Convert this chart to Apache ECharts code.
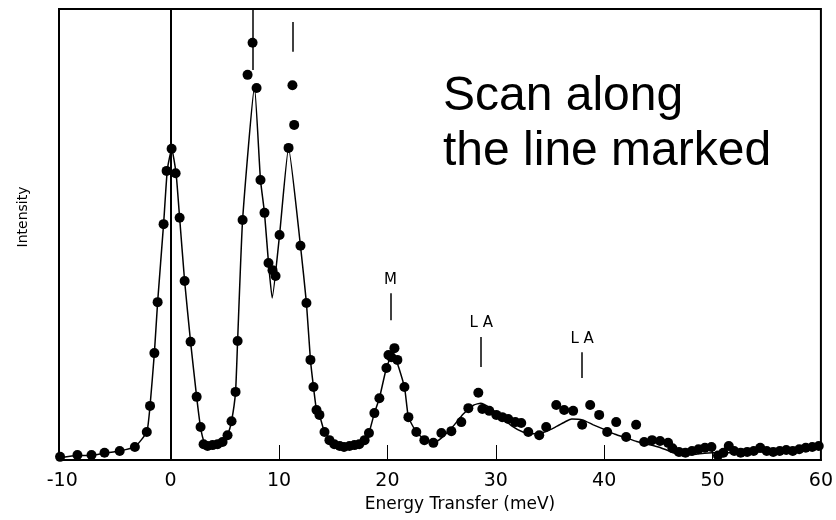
<!DOCTYPE html>
<html>
<head>
<meta charset="utf-8">
<script src="https://cdn.jsdelivr.net/npm/echarts@6/dist/echarts.min.js"></script>
<style>
  html, body { margin: 0; padding: 0; background: #fff; }
  #chart { width: 836px; height: 520px; }
</style>
</head>
<body>
<div id="chart"></div>
<script>
// Measured scan: energy transfer (meV) and intensity (arb. units)
const energy = [-10.2, -8.6, -7.3, -6.1, -4.7, -3.3, -2.2, -1.9, -1.5, -1.2,
  -0.65, -0.37, 0.09, 0.46, 0.83, 1.29, 1.84, 2.4, 2.76, 3.04,
  3.41, 3.87, 4.33, 4.79, 5.25, 5.62, 5.99, 6.18, 6.64, 7.1,
  7.56, 7.93, 8.29, 8.66, 9.03, 9.4, 9.68, 10.05, 10.88, 11.24,
  11.4, 11.98, 12.53, 12.9, 13.18, 13.46, 13.73, 14.2, 14.65, 15.1,
  15.6, 16.0, 16.5, 16.96, 17.4, 17.9, 18.3, 18.8, 19.26, 19.91,
  20.1, 20.37, 20.65, 20.92, 21.57, 21.94, 22.67, 23.41, 24.24, 24.98,
  25.9, 26.82, 27.47, 28.39, 28.76, 29.4, 30.05, 30.6, 31.15, 31.8,
  32.35, 33.0, 34.01, 34.65, 35.58, 36.31, 37.14, 37.97, 38.71, 39.54,
  40.28, 41.11, 42.03, 42.95, 43.69, 44.42, 45.16, 45.9, 46.3, 46.9,
  47.5, 48.1, 48.7, 49.3, 49.9, 50.5, 51.0, 51.5, 52.0, 52.6,
  53.2, 53.8, 54.4, 55.0, 55.6, 56.2, 56.8, 57.4, 58.0, 58.6,
  59.2, 59.8];
const intensity = [0.7, 1.1, 1.1, 1.6, 2.0, 2.9, 6.2, 12.0, 23.7, 35.0,
  52.3, 64.1, 69.0, 63.6, 53.7, 39.7, 26.2, 14.0, 7.3, 3.5,
  3.1, 3.3, 3.5, 4.0, 5.5, 8.6, 15.1, 26.4, 53.2, 85.4,
  92.5, 82.5, 62.1, 54.8, 43.7, 42.1, 40.8, 49.9, 69.2, 83.1,
  74.3, 47.5, 34.8, 22.2, 16.2, 11.1, 10.0, 6.2, 4.4, 3.5,
  3.1, 2.9, 3.1, 3.3, 3.5, 4.4, 6.0, 10.4, 13.7, 20.4,
  23.3, 22.8, 24.8, 22.2, 16.2, 9.5, 6.2, 4.4, 3.8, 6.0,
  6.4, 8.4, 11.5, 14.9, 11.3, 10.9, 10.0, 9.5, 9.1, 8.4,
  8.2, 6.2, 5.5, 7.3, 12.2, 11.1, 10.9, 7.8, 12.2, 10.0,
  6.2, 8.4, 5.1, 7.8, 4.0, 4.4, 4.2, 3.8, 2.6, 1.8,
  1.6, 2.0, 2.4, 2.7, 2.9, 1.0, 1.6, 3.1, 2.0, 1.6,
  1.8, 2.0, 2.7, 2.0, 1.8, 2.0, 2.2, 2.0, 2.4, 2.7,
  2.9, 3.1];

// Fitted profile drawn through the scan
const fitEnergy = [-10.2, -8.6, -7.3, -6.1, -4.7, -3.3, -2.2, -1.9, -1.5, -1.2,
  -0.65, -0.3, 0.1, 0.5, 0.83, 1.29, 1.84, 2.4, 2.76, 3.1,
  3.6, 4.3, 4.8, 5.25, 5.62, 5.99, 6.18, 6.64, 7.74, 8.29,
  8.66, 9.03, 9.37, 10.05, 10.88, 11.98, 12.53, 12.9, 13.18, 13.46,
  13.73, 14.2, 15.0, 16.0, 17.0, 17.9, 18.3, 18.8, 19.26, 19.91,
  20.5, 21.57, 21.94, 22.67, 23.5, 24.3, 25.0, 26.0, 27.0, 28.0,
  28.6, 29.5, 30.5, 31.5, 32.5, 33.5, 34.5, 35.5, 36.5, 37.0,
  38.0, 39.0, 40.0, 41.0, 42.0, 43.0, 44.0, 45.0, 46.0, 47.0,
  48.5, 50.0, 52.0, 54.0, 56.0, 58.0, 60.0];
const fitIntensity = [0.5, 1.0, 1.0, 1.5, 2.0, 2.9, 6.2, 12.0, 23.7, 35.0,
  52.3, 64.5, 69.0, 63.6, 53.7, 39.7, 26.2, 14.0, 7.3, 4.0,
  3.3, 3.5, 4.0, 5.5, 8.6, 15.1, 26.4, 53.2, 82.7, 62.1,
  54.8, 43.7, 35.9, 49.9, 69.2, 47.5, 34.8, 22.2, 16.2, 11.1,
  10.0, 6.2, 4.2, 3.2, 3.5, 4.4, 6.0, 10.4, 13.7, 20.4,
  23.8, 16.2, 9.5, 6.2, 4.4, 3.8, 4.9, 7.3, 10.2, 12.2,
  12.6, 11.5, 9.5, 7.5, 6.2, 5.8, 6.2, 7.3, 8.6, 9.1,
  8.9, 7.8, 6.8, 5.7, 4.9, 4.1, 3.5, 2.9, 2.0, 1.0,
  1.3, 1.6, 1.6, 1.8, 1.8, 2.2, 2.6];

// Axis tick labels
const tickValues = [-10, 0, 10, 20, 30, 40, 50, 60];
const innerTicks = [10, 20, 30, 40, 50];

// Mode markers: label, energy, tick top and tick bottom (intensity)
const markerLabels = ['', '', 'M', 'L A', 'L A'];
const markerEnergy = [7.6, 11.24, 20.28, 28.66, 37.97];
const markerTop = [100, 97.1, 37.0, 27.3, 23.9];
const markerBottom = [86.5, 90.5, 31.0, 20.6, 18.2];

const scanPoints = energy.map((e, i) => [e, intensity[i]]);
const fitPoints = fitEnergy.map((e, i) => [e, fitIntensity[i]]);

const markerLines = markerEnergy.map((e, i) => [
  { coord: [e, markerTop[i]], name: markerLabels[i] },
  { coord: [e, markerBottom[i]] }
]);
markerLines.push({ xAxis: 0, label: { show: false } });

const chart = echarts.init(document.getElementById('chart'), null, { renderer: 'canvas' });

chart.setOption({
  backgroundColor: '#fff',
  animation: false,
  grid: {
    left: 59, right: 13, top: 9, bottom: 60,
    show: true, borderColor: '#000', borderWidth: 2, backgroundColor: 'transparent'
  },
  xAxis: {
    type: 'value',
    min: -10.3,
    max: 60,
    splitLine: { show: false },
    axisLine: { show: true, lineStyle: { color: '#000', width: 2 } },
    axisTick: {
      show: true, inside: true, length: 15,
      customValues: innerTicks,
      lineStyle: { color: '#000', width: 1 }
    },
    axisLabel: {
      customValues: tickValues,
      margin: 12,
      color: '#000',
      fontSize: 19,
      fontFamily: 'DejaVu Sans',
      formatter: v => (v < 0 ? '-' + Math.abs(v) : String(v))
    },
    name: 'Energy Transfer (meV)',
    nameLocation: 'middle',
    nameGap: 34,
    nameTextStyle: {
      color: '#000', fontSize: 17, fontFamily: 'DejaVu Sans',
      padding: [0, 0, 0, 40]
    }
  },
  yAxis: {
    type: 'value',
    min: 0,
    max: 100,
    splitLine: { show: false },
    axisLine: { show: true, lineStyle: { color: '#000', width: 2 } },
    axisTick: { show: false },
    axisLabel: { show: false }
  },
  graphic: [
    {
      type: 'text', left: 443, top: 69,
      style: {
        text: 'Scan along\nthe line marked',
        font: '48px "Liberation Sans", Arial, sans-serif',
        fill: '#000',
        lineHeight: 55
      }
    },
    {
      type: 'text', x: 23, y: 217, rotation: Math.PI / 2,
      style: {
        text: 'Intensity',
        font: '14px "DejaVu Sans", sans-serif',
        fill: '#000',
        align: 'center',
        verticalAlign: 'middle'
      }
    }
  ],
  series: [
    {
      name: 'fit',
      type: 'line',
      data: fitPoints,
      showSymbol: false,
      smooth: 0.15,
      lineStyle: { color: '#000', width: 1.5 },
      z: 2,
      markLine: {
        silent: true,
        symbol: 'none',
        lineStyle: { color: '#000', width: 1.5, type: 'solid' },
        label: {
          show: true,
          position: 'start',
          formatter: p => p.name,
          color: '#000',
          fontSize: 15,
          fontFamily: 'DejaVu Sans',
          distance: 6
        },
        data: markerLines
      }
    },
    {
      name: 'scan',
      type: 'scatter',
      data: scanPoints,
      symbol: 'circle',
      symbolSize: 10,
      itemStyle: { color: '#000', opacity: 1 },
      z: 3
    }
  ]
});
</script>
</body>
</html>
